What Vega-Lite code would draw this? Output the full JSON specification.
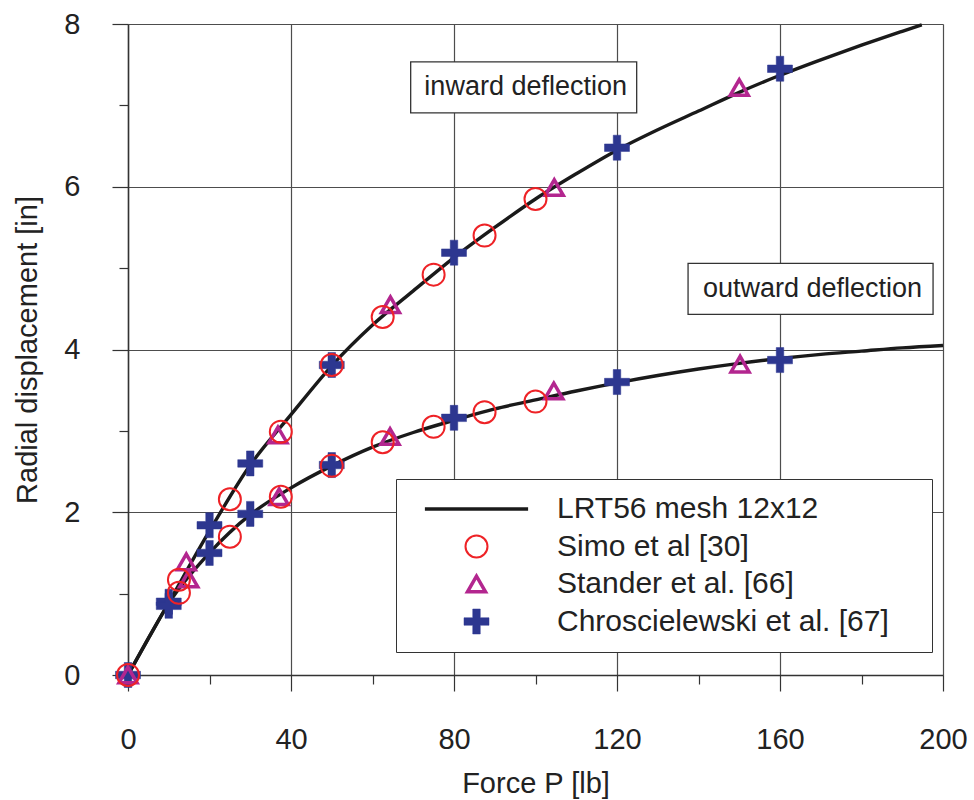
{
  "$schema": "https://vega.github.io/schema/vega-lite/v6.json",
  "width": 815,
  "height": 651,
  "autosize": {"type": "none"},
  "padding": {"left": 128, "top": 24, "right": 31, "bottom": 125},
  "background": "white",
  "config": {
    "font": "Liberation Sans",
    "view": {"stroke": null},
    "axis": {
      "grid": true,
      "gridColor": "#4d4d4d",
      "gridWidth": 1.2,
      "domainColor": "#333333",
      "domainWidth": 1.5,
      "tickColor": "#333333",
      "tickWidth": 1.2,
      "labelFontSize": 29,
      "labelColor": "#222222",
      "titleFontSize": 29,
      "titleFontWeight": "normal",
      "titleColor": "#222222",
      "labelFlush": false,
      "labelOverlap": false,
      "format": "d"
    },
    "legend": {
      "orient": "none",
      "legendX": 268,
      "legendY": 455,
      "titleOrient": "right",
      "titleFontSize": 10,
      "titlePadding": 28,
      "fillColor": "white",
      "strokeColor": "#333333",
      "padding": 15,
      "labelFontSize": 30,
      "labelColor": "#222222",
      "labelOffset": 65.5,
      "rowPadding": 7.5,
      "symbolOffset": 50.5,
      "labelLimit": 0,
      "symbolStrokeWidth": {"expr": "datum.value === 'Chroscielewski et al. [67]' ? 0.5 : datum.value === 'Simo et al [30]' ? 2 : 3.5"},
      "symbolSize": {"expr": "datum.value === 'Simo et al [30]' ? 484 : datum.value === 'Stander et al. [66]' ? 324 : datum.value === 'Chroscielewski et al. [67]' ? 625 : 576"}
    }
  },
  "datasets": {
    "curves": [
      {"curve": "inward", "series": "LRT56 mesh 12x12", "P": 0, "w": 0},
      {"curve": "inward", "series": "LRT56 mesh 12x12", "P": 5, "w": 0.45},
      {"curve": "inward", "series": "LRT56 mesh 12x12", "P": 10, "w": 0.89},
      {"curve": "inward", "series": "LRT56 mesh 12x12", "P": 20, "w": 1.77},
      {"curve": "inward", "series": "LRT56 mesh 12x12", "P": 30, "w": 2.58},
      {"curve": "inward", "series": "LRT56 mesh 12x12", "P": 40, "w": 3.2},
      {"curve": "inward", "series": "LRT56 mesh 12x12", "P": 50, "w": 3.8},
      {"curve": "inward", "series": "LRT56 mesh 12x12", "P": 60, "w": 4.3},
      {"curve": "inward", "series": "LRT56 mesh 12x12", "P": 70, "w": 4.72},
      {"curve": "inward", "series": "LRT56 mesh 12x12", "P": 80, "w": 5.13},
      {"curve": "inward", "series": "LRT56 mesh 12x12", "P": 90, "w": 5.5},
      {"curve": "inward", "series": "LRT56 mesh 12x12", "P": 100, "w": 5.85},
      {"curve": "inward", "series": "LRT56 mesh 12x12", "P": 110, "w": 6.16},
      {"curve": "inward", "series": "LRT56 mesh 12x12", "P": 120, "w": 6.45},
      {"curve": "inward", "series": "LRT56 mesh 12x12", "P": 130, "w": 6.7},
      {"curve": "inward", "series": "LRT56 mesh 12x12", "P": 140, "w": 6.93},
      {"curve": "inward", "series": "LRT56 mesh 12x12", "P": 150, "w": 7.16},
      {"curve": "inward", "series": "LRT56 mesh 12x12", "P": 160, "w": 7.37},
      {"curve": "inward", "series": "LRT56 mesh 12x12", "P": 170, "w": 7.56},
      {"curve": "inward", "series": "LRT56 mesh 12x12", "P": 180, "w": 7.74},
      {"curve": "inward", "series": "LRT56 mesh 12x12", "P": 190, "w": 7.91},
      {"curve": "inward", "series": "LRT56 mesh 12x12", "P": 194.8, "w": 7.99},
      {"curve": "outward", "series": "LRT56 mesh 12x12", "P": 0, "w": 0},
      {"curve": "outward", "series": "LRT56 mesh 12x12", "P": 5, "w": 0.45},
      {"curve": "outward", "series": "LRT56 mesh 12x12", "P": 10, "w": 0.88},
      {"curve": "outward", "series": "LRT56 mesh 12x12", "P": 20, "w": 1.5},
      {"curve": "outward", "series": "LRT56 mesh 12x12", "P": 30, "w": 1.97},
      {"curve": "outward", "series": "LRT56 mesh 12x12", "P": 40, "w": 2.3},
      {"curve": "outward", "series": "LRT56 mesh 12x12", "P": 50, "w": 2.57},
      {"curve": "outward", "series": "LRT56 mesh 12x12", "P": 60, "w": 2.8},
      {"curve": "outward", "series": "LRT56 mesh 12x12", "P": 70, "w": 2.98},
      {"curve": "outward", "series": "LRT56 mesh 12x12", "P": 80, "w": 3.13},
      {"curve": "outward", "series": "LRT56 mesh 12x12", "P": 90, "w": 3.27},
      {"curve": "outward", "series": "LRT56 mesh 12x12", "P": 100, "w": 3.38},
      {"curve": "outward", "series": "LRT56 mesh 12x12", "P": 110, "w": 3.49},
      {"curve": "outward", "series": "LRT56 mesh 12x12", "P": 120, "w": 3.59},
      {"curve": "outward", "series": "LRT56 mesh 12x12", "P": 130, "w": 3.68},
      {"curve": "outward", "series": "LRT56 mesh 12x12", "P": 140, "w": 3.76},
      {"curve": "outward", "series": "LRT56 mesh 12x12", "P": 150, "w": 3.83},
      {"curve": "outward", "series": "LRT56 mesh 12x12", "P": 160, "w": 3.89},
      {"curve": "outward", "series": "LRT56 mesh 12x12", "P": 170, "w": 3.94},
      {"curve": "outward", "series": "LRT56 mesh 12x12", "P": 180, "w": 3.98},
      {"curve": "outward", "series": "LRT56 mesh 12x12", "P": 190, "w": 4.02},
      {"curve": "outward", "series": "LRT56 mesh 12x12", "P": 200, "w": 4.05}
    ],
    "points": [
      {"series": "Chroscielewski et al. [67]", "P": 0, "w": 0},
      {"series": "Chroscielewski et al. [67]", "P": 10, "w": 0.9},
      {"series": "Chroscielewski et al. [67]", "P": 20, "w": 1.84},
      {"series": "Chroscielewski et al. [67]", "P": 30, "w": 2.6},
      {"series": "Chroscielewski et al. [67]", "P": 50, "w": 3.81},
      {"series": "Chroscielewski et al. [67]", "P": 80, "w": 5.19},
      {"series": "Chroscielewski et al. [67]", "P": 120, "w": 6.48},
      {"series": "Chroscielewski et al. [67]", "P": 160, "w": 7.45},
      {"series": "Chroscielewski et al. [67]", "P": 10, "w": 0.85},
      {"series": "Chroscielewski et al. [67]", "P": 20, "w": 1.5},
      {"series": "Chroscielewski et al. [67]", "P": 30, "w": 1.98},
      {"series": "Chroscielewski et al. [67]", "P": 50, "w": 2.58},
      {"series": "Chroscielewski et al. [67]", "P": 80, "w": 3.16},
      {"series": "Chroscielewski et al. [67]", "P": 120, "w": 3.6},
      {"series": "Chroscielewski et al. [67]", "P": 160, "w": 3.87},
      {"series": "Stander et al. [66]", "P": 0, "w": 0},
      {"series": "Stander et al. [66]", "P": 14.3, "w": 1.39},
      {"series": "Stander et al. [66]", "P": 36.8, "w": 2.95},
      {"series": "Stander et al. [66]", "P": 64.4, "w": 4.55},
      {"series": "Stander et al. [66]", "P": 104.6, "w": 5.99},
      {"series": "Stander et al. [66]", "P": 150, "w": 7.22},
      {"series": "Stander et al. [66]", "P": 14.9, "w": 1.18},
      {"series": "Stander et al. [66]", "P": 37.1, "w": 2.19},
      {"series": "Stander et al. [66]", "P": 64.3, "w": 2.93},
      {"series": "Stander et al. [66]", "P": 104.5, "w": 3.49},
      {"series": "Stander et al. [66]", "P": 150.2, "w": 3.82},
      {"series": "Simo et al [30]", "P": 0, "w": 0},
      {"series": "Simo et al [30]", "P": 12.5, "w": 1.17},
      {"series": "Simo et al [30]", "P": 25, "w": 2.16},
      {"series": "Simo et al [30]", "P": 37.5, "w": 2.99},
      {"series": "Simo et al [30]", "P": 50, "w": 3.81},
      {"series": "Simo et al [30]", "P": 62.5, "w": 4.4},
      {"series": "Simo et al [30]", "P": 75, "w": 4.92},
      {"series": "Simo et al [30]", "P": 87.5, "w": 5.4},
      {"series": "Simo et al [30]", "P": 100, "w": 5.85},
      {"series": "Simo et al [30]", "P": 12.5, "w": 1.01},
      {"series": "Simo et al [30]", "P": 25, "w": 1.7},
      {"series": "Simo et al [30]", "P": 37.5, "w": 2.19},
      {"series": "Simo et al [30]", "P": 50, "w": 2.57},
      {"series": "Simo et al [30]", "P": 62.5, "w": 2.86},
      {"series": "Simo et al [30]", "P": 75, "w": 3.05},
      {"series": "Simo et al [30]", "P": 87.5, "w": 3.23},
      {"series": "Simo et al [30]", "P": 100, "w": 3.36}
    ],
    "notes": [
      {"label": "inward deflection", "P": 97.1, "w": 7.22},
      {"label": "outward deflection", "P": 167.5, "w": 4.745}
    ]
  },
  "encoding": {
    "x": {
      "field": "P", "type": "quantitative",
      "scale": {"domain": [0, 200], "nice": false, "zero": false},
      "axis": {
        "title": "Force P [lb]",
        "values": [0, 20, 40, 60, 80, 100, 120, 140, 160, 180, 200],
        "labelExpr": "datum.value % 40 === 0 ? datum.label : ''",
        "tickSize": {"condition": {"test": "datum.value % 40 === 0", "value": 16}, "value": 9},
        "gridOpacity": {"condition": {"test": "datum.value % 40 === 0", "value": 1}, "value": 0},
        "labelPadding": 34,
        "titleX": 407.5,
        "titleY": 108,
        "titleBaseline": "middle"
      }
    },
    "y": {
      "field": "w", "type": "quantitative",
      "scale": {"domain": [0, 8], "nice": false},
      "axis": {
        "title": "Radial displacement [in]",
        "values": [0, 1, 2, 3, 4, 5, 6, 7, 8],
        "labelExpr": "datum.value % 2 === 0 ? datum.label : ''",
        "tickSize": {"condition": {"test": "datum.value % 2 === 0", "value": 16}, "value": 9},
        "gridOpacity": {"condition": {"test": "datum.value % 2 === 0", "value": 1}, "value": 0},
        "labelPadding": 32,
        "titleX": -101,
        "titleY": 325.5,
        "titleBaseline": "middle",
        "titleAngle": -90
      }
    }
  },
  "layer": [
    {
      "data": {"name": "curves"},
      "mark": {"type": "line", "interpolate": "monotone"},
      "encoding": {
        "detail": {"field": "curve"},
        "strokeWidth": {"value": 3.4},
        "stroke": {
          "field": "series", "type": "nominal",
          "scale": {
            "domain": ["LRT56 mesh 12x12", "Simo et al [30]", "Stander et al. [66]", "Chroscielewski et al. [67]"],
            "range": ["#1a1a1a", "#ee2226", "#b3268f", "#2d3790"]
          },
          "legend": {"title": "\u00a0"}
        }
      }
    },
    {
      "data": {"name": "points"},
      "transform": [{"filter": "datum.series === 'Chroscielewski et al. [67]'"}],
      "mark": {"type": "point", "filled": true, "opacity": 1, "size": 625},
      "encoding": {
        "strokeWidth": {"value": 0.5},
        "stroke": {"field": "series", "type": "nominal"},
        "fill": {
          "field": "series", "type": "nominal",
          "scale": {
            "domain": ["LRT56 mesh 12x12", "Simo et al [30]", "Stander et al. [66]", "Chroscielewski et al. [67]"],
            "range": ["transparent", "transparent", "transparent", "#2d3790"]
          },
          "legend": {"title": "\u00a0"}
        },
        "shape": {
          "field": "series", "type": "nominal",
          "scale": {
            "domain": ["LRT56 mesh 12x12", "Simo et al [30]", "Stander et al. [66]", "Chroscielewski et al. [67]"],
            "range": ["M-4.3,0H4.3", "circle", "triangle-up", "M-0.3,-1H0.3V-0.3H1V0.3H0.3V1H-0.3V0.3H-1V-0.3H-0.3Z"]
          },
          "legend": {"title": "\u00a0"}
        }
      }
    },
    {
      "data": {"name": "points"},
      "transform": [{"filter": "datum.series === 'Stander et al. [66]'"}],
      "mark": {"type": "point", "filled": true, "opacity": 1, "size": 324},
      "encoding": {
        "strokeWidth": {"value": 3.5},
        "stroke": {"field": "series", "type": "nominal"},
        "fill": {"field": "series", "type": "nominal"},
        "shape": {"field": "series", "type": "nominal"}
      }
    },
    {
      "data": {"name": "points"},
      "transform": [{"filter": "datum.series === 'Simo et al [30]'"}],
      "mark": {"type": "point", "filled": true, "opacity": 1, "size": 484},
      "encoding": {
        "strokeWidth": {"value": 2},
        "stroke": {"field": "series", "type": "nominal"},
        "fill": {"field": "series", "type": "nominal"},
        "shape": {"field": "series", "type": "nominal"}
      }
    },
    {
      "data": {"name": "notes"},
      "transform": [{"filter": "datum.label === 'inward deflection'"}],
      "mark": {"type": "rect", "width": 226, "height": 51, "fill": "white", "stroke": "#333333", "strokeWidth": 1.3},
      "encoding": {}
    },
    {
      "data": {"name": "notes"},
      "transform": [{"filter": "datum.label === 'outward deflection'"}],
      "mark": {"type": "rect", "width": 245, "height": 51, "fill": "white", "stroke": "#333333", "strokeWidth": 1.3},
      "encoding": {}
    },
    {
      "data": {"name": "notes"},
      "mark": {"type": "text", "fontSize": 27, "color": "#222222", "align": "center", "baseline": "middle", "dx": 2, "dy": 0},
      "encoding": {
        "text": {"field": "label"}
      }
    }
  ]
}
